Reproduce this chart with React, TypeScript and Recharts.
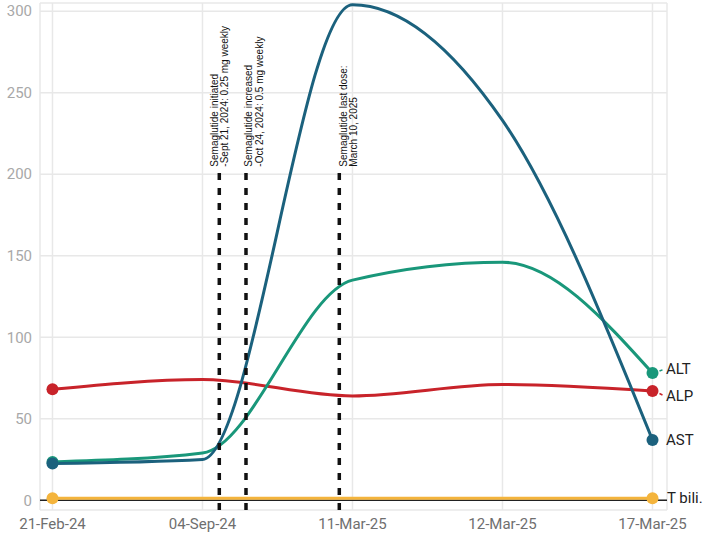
import React from 'react';
import { LineChart, Line, XAxis, YAxis, CartesianGrid, ReferenceLine } from 'recharts';

const categories = ['21-Feb-24', '04-Sep-24', '11-Mar-25', '12-Mar-25', '17-Mar-25'];
const astValues = [22.5, 25, 304, 233, 37];
const altValues = [23.5, 29, 135, 146, 78];
const alpValues = [68, 74, 64, 71, 67];
const tbiliValues = [1.2, 1.2, 1.2, 1.2, 1.2];
const yTicks = [0, 50, 100, 150, 200, 250, 300];

const annotationX = [1.112, 1.29, 1.912];
const annotationTop = 204;
const annotationLines = [
  ['Semaglutide initiated', '-Sept 21, 2024: 0.25 mg weekly'],
  ['Semaglutide increased', '-Oct 24, 2024:  0.5 mg weekly'],
  ['Semaglutide last dose:', 'March 10, 2025'],
];
const annotationOffsets = [
  [-4.3, 5.7],
  [3, 14],
  [4, 14],
];

const data = categories.map((c, i) => ({
  idx: i,
  ast: astValues[i],
  alt: altValues[i],
  alp: alpValues[i],
  tbili: tbiliValues[i],
}));

const last = categories.length - 1;

const makeDot = (color: string, r: number, label: string, labelDx: number, labelDy: number, leader: boolean) =>
  (props: any) => {
    const { cx, cy, index } = props;
    if (index !== 0 && index !== last) return <g key={`d-${label}-${index}`} />;
    return (
      <g key={`d-${label}-${index}`}>
        <circle cx={cx} cy={cy} r={r} fill={color} />
        {index === last && leader && (
          <line x1={cx + 7} y1={cy + labelDy * 0.5} x2={cx + 10} y2={cy + labelDy * 0.8} stroke={color} strokeWidth={1.5} />
        )}
        {index === last && (
          <text
            x={cx + labelDx}
            y={cy + labelDy}
            dominantBaseline="central"
            fontFamily="Roboto"
            fontSize={15}
            fill="#222"
          >
            {label}
          </text>
        )}
      </g>
    );
  };

const makeAnnotationLabel = (k: number) => (props: any) => {
  const vb = props.viewBox || {};
  const x = vb.x;
  const y = vb.y;
  return (
    <g>
      {annotationLines[k].map((t, j) => (
        <text
          key={j}
          x={x + annotationOffsets[k][j]}
          y={y - 1}
          transform={`rotate(-90 ${x + annotationOffsets[k][j]} ${y - 1})`}
          textAnchor="start"
          dominantBaseline="central"
          fontFamily="Liberation Sans, Arial, sans-serif"
          fontSize={10}
          fill="#111"
        >
          {t}
        </text>
      ))}
    </g>
  );
};

export default function App() {
  return (
    <div style={{ position: 'absolute', left: 0, top: 0, width: 709, height: 548, background: '#fff' }}>
      <LineChart width={709} height={548} data={data} margin={{ top: 3, right: 42, bottom: 8, left: 0 }}>
        <CartesianGrid stroke="#e8e8e8" strokeWidth={1.5} />
        <XAxis
          dataKey="idx"
          type="number"
          domain={[-0.0833, 4.0967]}
          ticks={[0, 1, 2, 3, 4]}
          interval={0}
          tickFormatter={(v: number) => categories[v] ?? ''}
          axisLine={false}
          tickLine={false}
          height={30}
          tick={{ fill: '#6f6f6f', fontSize: 15, fontFamily: 'Roboto' }}
        />
        <YAxis
          type="number"
          domain={[-6, 305]}
          ticks={yTicks}
          interval={0}
          axisLine={false}
          tickLine={false}
          width={40}
          tick={{ fill: '#a8a8a8', fontSize: 15, fontFamily: 'Roboto' }}
        />
        <ReferenceLine y={0} stroke="#222" strokeWidth={1.5} />
        <Line
          type="monotone"
          dataKey="tbili"
          stroke="#f4b43c"
          strokeWidth={3}
          dot={makeDot('#f4b43c', 6, 'T bili.', 14.5, 0, false)}
          activeDot={false}
          isAnimationActive={false}
        />
        <Line
          type="monotone"
          dataKey="alp"
          stroke="#c8232a"
          strokeWidth={3}
          dot={makeDot('#c8232a', 6, 'ALP', 13.5, 5, true)}
          activeDot={false}
          isAnimationActive={false}
        />
        <Line
          type="monotone"
          dataKey="alt"
          stroke="#19977a"
          strokeWidth={3}
          dot={makeDot('#19977a', 6, 'ALT', 13.5, -4, true)}
          activeDot={false}
          isAnimationActive={false}
        />
        <Line
          type="monotone"
          dataKey="ast"
          stroke="#1b617d"
          strokeWidth={3}
          dot={makeDot('#1b617d', 6, 'AST', 13.5, 0, false)}
          activeDot={false}
          isAnimationActive={false}
        />
        {annotationX.map((ax, k) => (
          <ReferenceLine
            key={k}
            segment={[
              { x: ax, y: -6 },
              { x: ax, y: annotationTop },
            ]}
            stroke="#111"
            strokeWidth={3.5}
            strokeDasharray="7 8"
            label={makeAnnotationLabel(k)}
          />
        ))}
      </LineChart>
    </div>
  );
}
